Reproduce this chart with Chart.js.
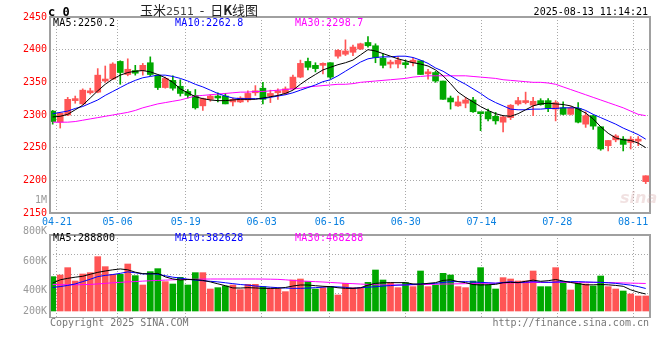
<!DOCTYPE html>
<html>
<head>
<meta charset="utf-8">
<script src="https://cdn.jsdelivr.net/npm/chart.js@4.4.0/dist/chart.umd.min.js"></script>
<style>
  body { margin: 0; background: #fff; }
  #wrap { position: relative; width: 660px; height: 360px; overflow: hidden; font-family: 'DejaVu Sans Mono', monospace; }
  #wrap canvas { position: absolute; left: 0; }
  .t { position: absolute; white-space: pre; font-size: 10px; line-height: 12px; }
</style>
</head>
<body>
<div id="wrap">
  <canvas id="kline" width="660" height="232" style="top:0"></canvas>
  <canvas id="vol" width="660" height="88" style="top:230px"></canvas>
</div>
<script>
// 玉米2511 daily K-line (sina style): candles + MA5/10/30, volume + MA5/10/30

const dates = [
  '04-18', '04-21', '04-22', '04-23', '04-24', '04-25', '04-28', '04-29', '04-30', '05-06',
  '05-07', '05-08', '05-09', '05-12', '05-13', '05-14', '05-15', '05-16', '05-19', '05-20',
  '05-21', '05-22', '05-23', '05-26', '05-27', '05-28', '05-29', '05-30', '06-03', '06-04',
  '06-05', '06-06', '06-09', '06-10', '06-11', '06-12', '06-13', '06-16', '06-17', '06-18',
  '06-19', '06-20', '06-23', '06-24', '06-25', '06-26', '06-27', '06-30', '07-01', '07-02',
  '07-03', '07-04', '07-07', '07-08', '07-09', '07-10', '07-11', '07-14', '07-15', '07-16',
  '07-17', '07-18', '07-21', '07-22', '07-23', '07-24', '07-25', '07-28', '07-29', '07-30',
  '07-31', '08-01', '08-04', '08-05', '08-06', '08-07', '08-08', '08-11', '08-12', '08-13'
];
const tickDates = ['04-21', '05-06', '05-19', '06-03', '06-16', '06-30', '07-14', '07-28', '08-11'];

const opens = [
  2306, 2289, 2300, 2322, 2317, 2334, 2335, 2352, 2355, 2382,
  2362, 2368, 2368, 2380, 2361, 2342, 2353, 2344, 2336, 2330,
  2314, 2324, 2329, 2329, 2320, 2320, 2323, 2334, 2341, 2329,
  2334, 2333, 2340, 2358, 2382, 2376, 2376, 2380, 2390, 2393,
  2396, 2401, 2411, 2406, 2387, 2378, 2378, 2380, 2380, 2383,
  2363, 2365, 2352, 2326, 2314, 2318, 2323, 2304, 2305, 2298,
  2289, 2296, 2317, 2319, 2315, 2322, 2322, 2309, 2311, 2301,
  2310, 2286, 2299, 2282, 2253, 2262, 2263, 2258, 2260, 2198
];
const closes = [
  2290, 2303, 2324, 2324, 2338, 2337, 2361, 2354, 2378, 2365,
  2370, 2364, 2376, 2362, 2342, 2356, 2341, 2333, 2330, 2311,
  2325, 2329, 2326, 2317, 2324, 2326, 2333, 2336, 2324, 2333,
  2336, 2340, 2358, 2379, 2373, 2371, 2378, 2358, 2399, 2398,
  2404, 2409, 2406, 2388, 2376, 2380, 2384, 2377, 2384, 2362,
  2365, 2352, 2324, 2320, 2320, 2323, 2305, 2302, 2294, 2291,
  2297, 2315, 2322, 2322, 2321, 2316, 2310, 2319, 2301, 2311,
  2289, 2299, 2283, 2248, 2261, 2268, 2255, 2263, 2263, 2207
];
const highs = [
  2307, 2304, 2327, 2329, 2340, 2341, 2371, 2375, 2380, 2383,
  2386, 2376, 2379, 2389, 2361, 2358, 2360, 2354, 2339, 2339,
  2326, 2331, 2334, 2333, 2326, 2328, 2337, 2345, 2350, 2338,
  2340, 2343, 2361, 2384, 2387, 2380, 2380, 2380, 2400, 2415,
  2407, 2410, 2420, 2409, 2394, 2384, 2389, 2384, 2387, 2383,
  2370, 2367, 2352, 2329, 2329, 2327, 2327, 2304, 2309, 2304,
  2298, 2316, 2327, 2335, 2327, 2325, 2325, 2322, 2320, 2313,
  2319, 2305, 2300, 2282, 2261, 2270, 2267, 2267, 2267, 2207
];
const lows = [
  2286, 2280, 2299, 2318, 2316, 2332, 2334, 2350, 2354, 2347,
  2360, 2361, 2361, 2360, 2339, 2341, 2338, 2329, 2326, 2309,
  2307, 2321, 2320, 2317, 2314, 2319, 2320, 2330, 2317, 2319,
  2324, 2331, 2339, 2357, 2369, 2366, 2363, 2355, 2387, 2391,
  2391, 2400, 2404, 2380, 2372, 2372, 2372, 2372, 2375, 2362,
  2355, 2350, 2324, 2309, 2313, 2311, 2304, 2276, 2291, 2286,
  2274, 2293, 2315, 2317, 2299, 2315, 2305, 2291, 2300, 2300,
  2288, 2281, 2278, 2246, 2245, 2259, 2245, 2248, 2253, 2195
];

// moving averages as drawn on the chart
const ma5 = [
  2297, 2298, 2301, 2308, 2315, 2326, 2337, 2347, 2355, 2361,
  2365, 2367, 2368, 2366, 2362, 2357, 2350, 2340, 2334, 2328,
  2325, 2323, 2322, 2322, 2323, 2324, 2324, 2324, 2326, 2328,
  2330, 2333, 2338, 2347, 2355, 2362, 2369, 2373, 2377, 2380,
  2384, 2392, 2400, 2398, 2394, 2390, 2386, 2383, 2380, 2378,
  2375, 2369, 2360, 2348, 2335, 2327, 2320, 2313, 2307, 2302,
  2299, 2298, 2302, 2308, 2314, 2317, 2318, 2317, 2316, 2314,
  2309, 2303, 2294, 2282, 2272, 2265, 2262, 2261, 2257, 2250
];
const ma10 = [
  2302, 2304, 2306, 2310, 2313, 2318, 2323, 2330, 2336, 2342,
  2348, 2353, 2357, 2359, 2361, 2361, 2359, 2356, 2352, 2347,
  2343, 2338, 2333, 2329, 2326, 2325, 2325, 2325, 2325, 2327,
  2329, 2331, 2334, 2338, 2342, 2346, 2351, 2354, 2360, 2367,
  2374, 2381, 2386, 2388, 2389, 2389, 2390, 2390, 2388, 2384,
  2379, 2372, 2367, 2360, 2353, 2347, 2340, 2333, 2325, 2319,
  2314, 2309, 2308, 2308, 2309, 2309, 2310, 2310, 2311, 2311,
  2311, 2307, 2301, 2296, 2291, 2286, 2280, 2275, 2270, 2263
];
const ma30 = [
  2289, 2289, 2289, 2290, 2292, 2294, 2296, 2298, 2300, 2302,
  2304, 2307, 2311, 2314, 2317, 2319, 2321, 2323, 2326, 2329,
  2330, 2331, 2332, 2333, 2334, 2335, 2335, 2336, 2336, 2337,
  2338, 2339, 2340, 2341, 2343, 2344, 2345, 2346, 2347, 2347,
  2348, 2350, 2351, 2352, 2353, 2354, 2355, 2356, 2358, 2359,
  2360, 2360, 2360, 2360, 2360, 2360, 2359, 2358, 2357, 2356,
  2354, 2353, 2352, 2351, 2350, 2350, 2349, 2347, 2343, 2339,
  2335, 2331, 2327, 2323, 2319, 2315, 2311, 2306, 2301, 2299
];

const volumes = [
  584000, 612000, 737000, 510000, 629000, 652000, 924000, 754000, 623000, 623000,
  799000, 601000, 442000, 669000, 720000, 499000, 459000, 572000, 442000, 652000,
  652000, 374000, 397000, 425000, 442000, 363000, 453000, 453000, 414000, 385000,
  374000, 329000, 527000, 544000, 499000, 374000, 397000, 414000, 272000, 470000,
  397000, 397000, 487000, 697000, 527000, 482000, 397000, 482000, 414000, 680000,
  414000, 442000, 640000, 612000, 414000, 397000, 510000, 737000, 442000, 374000,
  567000, 544000, 510000, 510000, 680000, 414000, 414000, 737000, 499000, 357000,
  470000, 459000, 425000, 595000, 414000, 374000, 340000, 289000, 255000, 255000
];
const volMa5 = [
  475000, 530000, 555000, 575000, 590000, 625000, 657000, 680000, 700000, 715000,
  700000, 660000, 635000, 630000, 640000, 580000, 545000, 528000, 535000, 533000,
  520000, 495000, 462000, 430000, 392000, 390000, 397000, 392000, 385000, 385000,
  385000, 400000, 425000, 442000, 442000, 430000, 420000, 414000, 395000, 385000,
  385000, 395000, 440000, 470000, 480000, 482000, 482000, 482000, 460000, 455000,
  470000, 482000, 520000, 530000, 500000, 482000, 450000, 442000, 447000, 453000,
  480000, 487000, 482000, 505000, 525000, 505000, 515000, 535000, 510000, 485000,
  465000, 445000, 445000, 450000, 445000, 435000, 420000, 360000, 320000, 289000
];
const volMa10 = [
  400000, 415000, 435000, 460000, 500000, 540000, 585000, 605000, 620000, 640000,
  665000, 650000, 630000, 635000, 625000, 600000, 575000, 560000, 540000, 525000,
  515000, 505000, 495000, 480000, 465000, 450000, 440000, 425000, 415000, 405000,
  397000, 390000, 385000, 385000, 390000, 397000, 405000, 414000, 410000, 402000,
  385000, 395000, 405000, 412000, 425000, 432000, 440000, 443000, 452000, 460000,
  465000, 470000, 485000, 499000, 499000, 499000, 492000, 487000, 480000, 472000,
  485000, 497000, 483000, 490000, 498000, 492000, 487000, 492000, 499000, 499000,
  499000, 494000, 490000, 487000, 480000, 470000, 455000, 440000, 415000, 383000
];
const volMa30 = [
  450000, 448000, 445000, 445000, 448000, 452000, 460000, 470000, 480000, 487000,
  495000, 500000, 508000, 514000, 520000, 525000, 530000, 535000, 538000, 540000,
  542000, 544000, 544000, 544000, 544000, 544000, 544000, 544000, 543000, 541000,
  538000, 530000, 520000, 510000, 505000, 499000, 493000, 485000, 478000, 470000,
  465000, 458000, 452000, 447000, 443000, 442000, 442000, 443000, 445000, 448000,
  452000, 455000, 458000, 460000, 462000, 465000, 468000, 470000, 472000, 474000,
  476000, 478000, 480000, 482000, 484000, 485000, 486000, 487000, 487000, 487000,
  487000, 487000, 486000, 484000, 482000, 480000, 477000, 474000, 471000, 468000
];

const priceTicks = [2150, 2200, 2250, 2300, 2350, 2400, 2450];
const volLabels = ['800K', '600K', '400K', '200K'];

const UP = '#ff5555', DOWN = '#00a800', GRID = '#a8a8a8';
const MONO = { family: 'DejaVu Sans Mono', size: 10 };
const candleColors = opens.map((o, i) => closes[i] >= o ? UP : DOWN);
const pts = arr => arr.map((v, i) => ({ x: i, y: v }));

// grey frame around each panel
const framePlugin = {
  id: 'frame',
  afterDraw(chart) {
    const a = chart.chartArea, c = chart.ctx;
    c.save();
    c.strokeStyle = '#a0a0a0';
    c.lineWidth = 2;
    c.strokeRect(a.left, a.top, a.right - a.left, a.bottom - a.top);
    c.restore();
  }
};

// hidden data axis + separate date axis for grid/labels (sina spaces them slightly differently)
function xAxes(showLabels) {
  return {
    x: { type: 'linear', display: false, offset: false, min: -0.36, max: 79.57 },
    xd: {
      type: 'linear', position: 'bottom', offset: false, min: 0.08, max: 79.23,
      afterBuildTicks: s => { s.ticks = tickDates.map(d => ({ value: dates.indexOf(d) })); },
      afterFit: s => { s.height = showLabels ? 19 : 0; },
      grid: { color: GRID, drawTicks: false, offset: false },
      border: { display: false, dash: [1, 2] },
      ticks: {
        display: showLabels, autoSkip: false, maxRotation: 0, padding: 3,
        color: '#0a80e0', font: MONO,
        callback: v => dates[v]
      }
    }
  };
}

function line(data, color, yId) {
  return {
    type: 'line', data: pts(data), borderColor: color, borderWidth: 1,
    pointRadius: 0, tension: 0, order: 0, yAxisID: yId
  };
}

// price panel
new Chart(document.getElementById('kline'), {
  type: 'bar',
  data: {
    datasets: [
      {
        data: lows.map((l, i) => ({ x: i, y: [l, highs[i]] })),
        backgroundColor: candleColors, barThickness: 1, grouped: false, order: 2
      },
      {
        data: opens.map((o, i) => ({ x: i, y: [o, closes[i]] })),
        backgroundColor: candleColors, barThickness: 6, minBarLength: 2, grouped: false, order: 1
      },
      line(ma5, '#000000', 'y'),
      line(ma10, '#0000ff', 'y'),
      line(ma30, '#ff00ff', 'y')
    ]
  },
  options: {
    responsive: false,
    animation: false,
    layout: { padding: { top: 17, right: 10, left: 0, bottom: 0 } },
    plugins: { legend: { display: false }, tooltip: { enabled: false } },
    scales: Object.assign(xAxes(true), {
      y: {
        min: 2150, max: 2450,
        afterBuildTicks: s => { s.ticks = priceTicks.map(v => ({ value: v })); },
        afterFit: s => { s.width = 50; },
        grid: { color: GRID, drawTicks: false },
        border: { display: false, dash: [1, 2] },
        ticks: { color: '#ff0000', font: MONO, padding: 3, callback: v => String(v) }
      }
    })
  },
  plugins: [framePlugin]
});

// volume panel
new Chart(document.getElementById('vol'), {
  type: 'bar',
  data: {
    datasets: [
      {
        data: pts(volumes), backgroundColor: candleColors,
        barThickness: 6, grouped: false, order: 1, yAxisID: 'y'
      },
      line(volMa5, '#000000', 'y'),
      line(volMa10, '#0000ff', 'y'),
      line(volMa30, '#ff00ff', 'y')
    ]
  },
  options: {
    responsive: false,
    animation: false,
    layout: { padding: { top: 5, right: 10, left: 0, bottom: 0 } },
    plugins: { legend: { display: false }, tooltip: { enabled: false } },
    scales: Object.assign(xAxes(false), {
      y: { display: false, min: -119000, max: 1292000 },
      // panel split into quarters for the dotted grid
      yg: {
        type: 'linear', position: 'left', min: -0.25, max: 4,
        afterBuildTicks: s => { s.ticks = [1, 2, 3].map(v => ({ value: v })); },
        afterFit: s => { s.width = 50; },
        grid: { color: GRID, drawTicks: false },
        border: { display: false, dash: [1, 2] },
        ticks: { display: false }
      }
    })
  },
  plugins: [framePlugin]
});

// text around the panels
const wrap = document.getElementById('wrap');
function addText(txt, css) {
  const d = document.createElement('div');
  d.className = 't';
  d.textContent = txt;
  Object.assign(d.style, css);
  wrap.appendChild(d);
  return d;
}

addText('c 0', { left: '48px', top: '4px', fontSize: '12px', lineHeight: '16px', fontWeight: 'bold', color: '#000' });
const title = addText('', { left: '140px', top: '2px', fontSize: '13px', lineHeight: '16px', color: '#222',
  fontFamily: "'Noto Sans CJK SC', sans-serif" });
title.innerHTML = '玉米<span style="font-family:\'DejaVu Sans\';font-size:11px;color:#444">2511</span>  -  日<b>K</b>线图';
addText('2025-08-13 11:14:21', { right: '12px', top: '6px', color: '#000' });

addText('MA5:2250.2', { left: '53px', top: '17px', color: '#000', letterSpacing: '0.2px' });
addText('MA10:2262.8', { left: '175px', top: '17px', color: '#0000ff', letterSpacing: '0.2px' });
addText('MA30:2298.7', { left: '295px', top: '17px', color: '#ff00ff', letterSpacing: '0.2px' });

addText('1M', { right: '613px', top: '194px', color: '#999' });
addText('sina', { left: '620px', top: '188px', fontSize: '16px', lineHeight: '20px', fontStyle: 'italic',
  fontWeight: 'bold', fontFamily: "'DejaVu Sans', sans-serif", color: 'rgba(215,170,170,0.35)' });

const volLabelTops = [225, 255, 284, 305];
volLabels.forEach((s, i) => addText(s, { right: '613px', top: volLabelTops[i] + 'px', color: '#999' }));

addText('MA5:288800', { left: '53px', top: '232px', color: '#000', letterSpacing: '0.2px' });
addText('MA10:382628', { left: '175px', top: '232px', color: '#0000ff', letterSpacing: '0.2px' });
addText('MA30:468288', { left: '295px', top: '232px', color: '#ff00ff', letterSpacing: '0.2px' });

addText('Copyright 2025 SINA.COM', { left: '50px', top: '317px', color: '#777' });
addText('http://finance.sina.com.cn', { right: '11px', top: '317px', color: '#777' });
</script>
</body>
</html>
